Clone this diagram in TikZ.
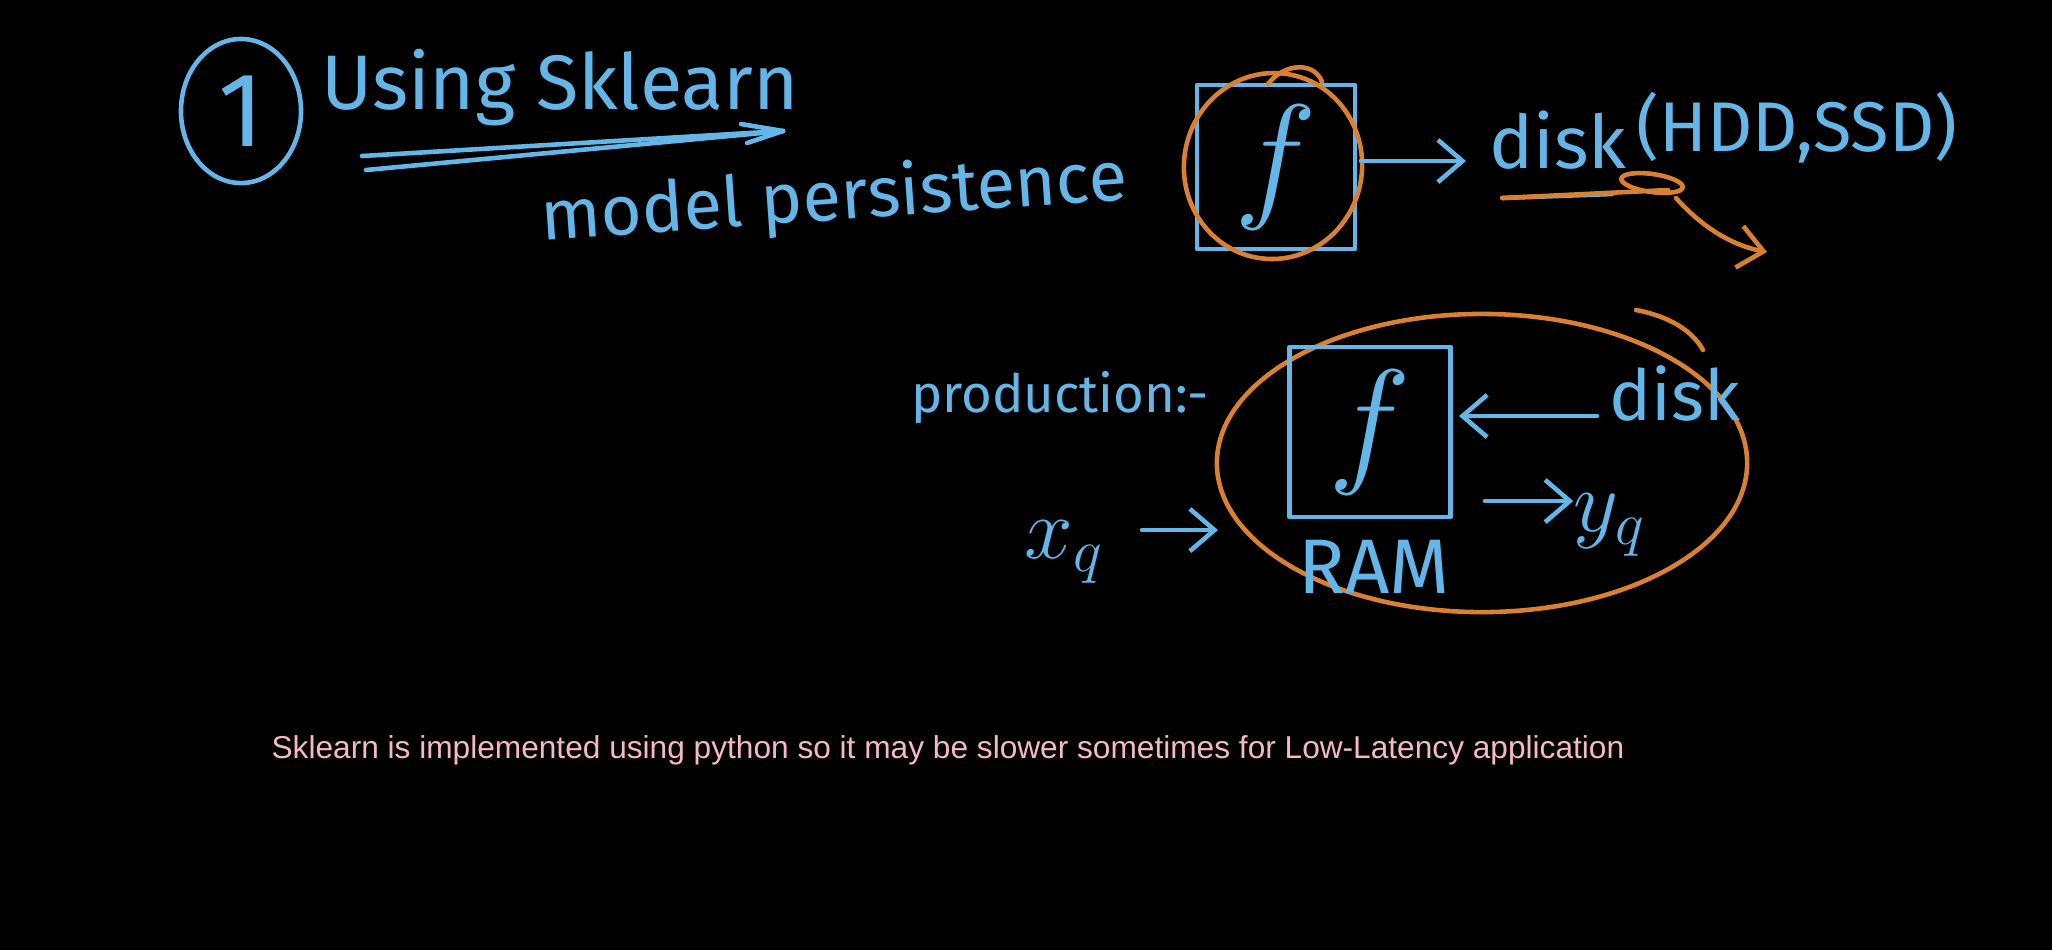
\documentclass[tikz,border=0pt]{standalone}
\usepackage{fontspec}
\setmainfont{Fira Sans}
\newfontfamily\notefont{Liberation Sans}
\usetikzlibrary{arrows.meta,shapes.geometric}
\definecolor{hblue}{RGB}{100,182,232}
\definecolor{horange}{RGB}{218,128,50}
\definecolor{hpink}{RGB}{245,184,200}
\newcommand{\bigf}{\scalebox{1.6}{$f$}}
\begin{document}
\begin{tikzpicture}[x=0.01cm,y=-0.01cm,
  hand/.style={text=hblue,inner sep=0pt},
  pen/.style={draw=hblue,line width=1.3pt,line cap=round,line join=round},
  opn/.style={draw=horange,line width=1.3pt,line cap=round,line join=round},
  barb/.style={-{Straight Barb[length=7pt,width=12pt]}},
  fbox/.style={pen,rectangle,inner sep=0pt,text=hblue,font=\fontsize{24}{28}\selectfont},
  ring/.style={opn,ellipse,inner sep=0pt}]
\fill[black] (0,0) rectangle (2052,950);
\useasboundingbox (0,0) rectangle (2052,950);

% heading
\node[pen,ellipse,minimum width=1.2cm,minimum height=1.44cm,text=hblue,font=\fontsize{30}{34}\selectfont] (one) at (241,111) {1};
\node[hand,font=\fontsize{22}{26}\selectfont] (using) at (560,88) {Using Sklearn};
\coordinate (ua) at (362,156);
\coordinate (ub) at (366,170);
\coordinate (uh) at (783,131);
\draw[pen] (ua) -- (uh);
\draw[pen] (ub) -- (uh);
\draw[pen] (uh) -- ++(-42,-7);
\draw[pen] (uh) -- ++(-36,12);
\node[hand,font=\fontsize{20}{24}\selectfont,rotate=4] (persist) at (834,200) {model persistence};

% top: model saved to disk
\node[fbox,minimum width=1.58cm,minimum height=1.64cm] (f1) at (1276,167) {\bigf};
\node[ring,minimum width=1.78cm,minimum height=1.86cm,rotate=-8] (r1) at (1273,166) {};
\draw[opn] (1268,84) .. controls (1285,62) and (1315,62) .. (1322,82);
\node[hand,font=\fontsize{21}{25}\selectfont] (disk1) at (1558,140) {disk};
\node[hand,font=\fontsize{20}{24}\selectfont] (hdd) at (1797,128) {(HDD,SSD)};
\coordinate (a1s) at (1361,161);
\coordinate (a1e) at (1466,161);
\draw[pen,barb] (a1s) -- (a1e);
\coordinate (d1a) at (1503,198);
\coordinate (d1b) at (1612,194);
\draw[pen] (d1a) -- (d1b);
\coordinate (s1a) at (1502,198);
\coordinate (s1b) at (1668,190);
\draw[opn] (s1a) -- (s1b);
\node[ring,minimum width=0.62cm,minimum height=0.18cm,rotate=-8] (loop) at (1652,183) {};
\coordinate (oa) at (1676,198);
\coordinate (ob) at (1767,252);
\draw[opn,barb] (oa) .. controls (1700,225) and (1730,245) .. (ob);

% production
\node[hand,font=\fontsize{15}{18}\selectfont] (prod) at (1060,398) {production:-};
\node[ring,minimum width=5.3cm,minimum height=2.98cm] (r2) at (1482,463) {};
\draw[opn] (1636,310) .. controls (1668,316) and (1692,330) .. (1703,350);
\node[fbox,minimum width=1.61cm,minimum height=1.70cm] (f2) at (1370,432) {\bigf};
\node[hand,font=\fontsize{22}{26}\selectfont] (ram) at (1374,567) {RAM};
\node[hand,font=\fontsize{20}{24}\selectfont] (disk2) at (1675,393) {disk};
\coordinate (a2s) at (1597,416);
\coordinate (a2e) at (1459,416);
\draw[pen,barb] (a2s) -- (a2e);
\node[hand,font=\fontsize{24}{28}\selectfont] (yq) at (1610,525) {$y_q$};
\coordinate (ya) at (1485,501);
\draw[pen,barb] (ya) -- (yq.west |- ya);
\node[hand,font=\fontsize{24}{28}\selectfont] (xq) at (1064,552) {$x_q$};
\coordinate (xa) at (1142,530);
\coordinate (xb) at (1218,530);
\draw[pen,barb] (xa) -- (xb);

% note
\node[text=hpink,font=\notefont\fontsize{9}{11}\selectfont] (note) at (948,750) {Sklearn is implemented using python so it may be slower sometimes for Low-Latency application};
\end{tikzpicture}
\end{document}
